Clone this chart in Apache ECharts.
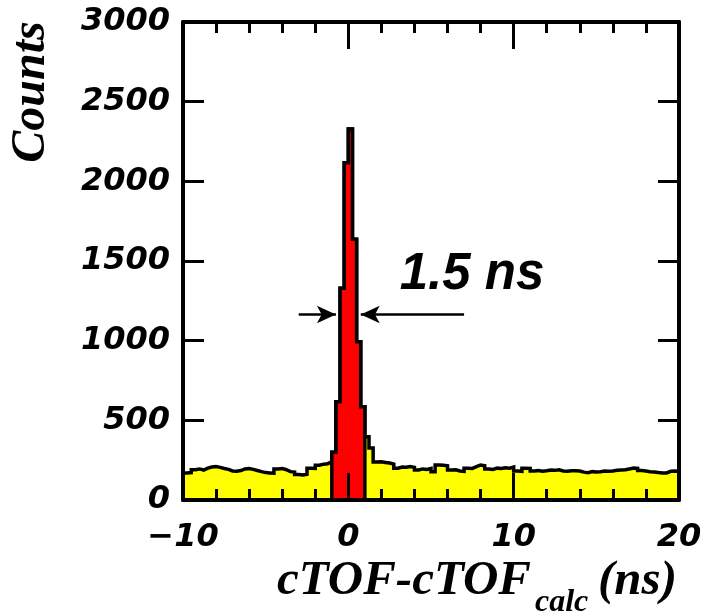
<!DOCTYPE html>
<html>
<head>
<meta charset="utf-8">
<script src="https://cdn.jsdelivr.net/npm/echarts@6/dist/echarts.min.js"></script>
<style>html,body{margin:0;padding:0;background:#fff}#c{width:706px;height:615px}</style>
</head>
<body>
<div id="c"></div>
<script>
// ---- data ----
const binStart = -10;          // ns, first bin low edge
const binWidth = 0.25;         // ns
// counts per bin, 120 bins from -10 to 20 ns
const counts = [
  170, 172, 190, 195, 188, 200, 207, 210, 205, 198,
  192, 182, 180, 185, 195, 198, 192, 185, 178, 172,
  170, 168, 195, 198, 190, 178, 175, 160, 157, 162,
  200, 198, 218, 225, 228, 240, 300, 617, 1329, 2117,
  2328, 1636, 993, 586, 397, 326, 238, 240, 236, 232,
  225, 200, 207, 205, 210, 205, 188, 195, 192, 198,
  178, 220, 218, 215, 188, 190, 182, 180, 200, 198,
  209, 220, 215, 195, 192, 200, 198, 202, 200, 207,
  182, 180, 200, 198, 182, 185, 180, 183, 188, 186,
  190, 182, 180, 184, 184, 182, 175, 171, 178, 176,
  178, 182, 180, 182, 186, 188, 190, 195, 200, 198,
  185, 182, 178, 176, 172, 170, 170, 180, 182, 180
];
const peakWindow = [-1.0, 1.0];      // ns, red selection
const fwhmArrows = { half: 1164, left: [-3, -0.75], right: [7, 0.75] };
const fwhmText = '1.5 ns';
const xTicks = { min: -10, max: 20, interval: 10 };
const yTicks = { min: 0, max: 3000, interval: 500 };

// ---- build step data ----
function stepData(lo, hi) {
  const d = [];
  for (let i = 0; i < counts.length; i++) {
    const x0 = binStart + i * binWidth;
    if (x0 < lo - 1e-9 || x0 + binWidth > hi + 1e-9) continue;
    d.push([x0, counts[i]]);
  }
  const last = d[d.length - 1];
  d.push([last[0] + binWidth, last[1]]);
  return d;
}
const allData = stepData(-Infinity, Infinity);
const peakData = stepData(peakWindow[0], peakWindow[1]);
peakData.unshift([peakWindow[0], 0]);
peakData.push([peakWindow[1], 0]);

const labelFont = {
  fontFamily: 'DejaVu Sans', fontWeight: 'bold', fontStyle: 'italic',
  fontSize: 32, color: '#000'
};
const axisCommon = {
  z: 10,
  axisLine: { show: true, onZero: false, lineStyle: { color: '#000', width: 4 } },
  splitLine: { show: false }
};

const chart = echarts.init(document.getElementById('c'), null, { renderer: 'canvas' });
chart.setOption({
  animation: false,
  backgroundColor: '#fff',
  grid: { left: 183, right: 27, top: 22, bottom: 115, containLabel: false },
  xAxis: [
    Object.assign({}, axisCommon, {
      type: 'value', position: 'bottom',
      min: xTicks.min, max: xTicks.max, interval: xTicks.interval,
      axisTick: { show: true, inside: true, length: 27, lineStyle: { color: '#000', width: 3 } },
      minorTick: { show: true, splitNumber: 5, length: 11, lineStyle: { color: '#000', width: 3 } },
      axisLabel: Object.assign({ margin: 22, showMinLabel: true, showMaxLabel: true,
        formatter: v => (v < 0 ? '\u2212' + Math.abs(v) : String(v)) }, labelFont)
    }),
    Object.assign({}, axisCommon, {
      type: 'value', position: 'top',
      min: xTicks.min, max: xTicks.max, interval: xTicks.interval,
      axisTick: { show: true, inside: true, length: 27, lineStyle: { color: '#000', width: 3 } },
      minorTick: { show: true, splitNumber: 5, length: 11, lineStyle: { color: '#000', width: 3 } },
      axisLabel: { show: false }
    })
  ],
  yAxis: [
    Object.assign({}, axisCommon, {
      type: 'value', position: 'left',
      min: yTicks.min, max: yTicks.max, interval: yTicks.interval,
      axisTick: { show: true, inside: true, length: 21, lineStyle: { color: '#000', width: 3 } },
      axisLabel: Object.assign({ margin: 13, showMinLabel: true, showMaxLabel: true,
        formatter: v => String(v) }, labelFont)
    }),
    Object.assign({}, axisCommon, {
      type: 'value', position: 'right',
      min: yTicks.min, max: yTicks.max, interval: yTicks.interval,
      axisTick: { show: true, inside: true, length: 21, lineStyle: { color: '#000', width: 3 } },
      axisLabel: { show: false }
    })
  ],
  series: [
    {
      type: 'line', step: 'end', data: allData, symbol: 'none', z: 2,
      lineStyle: { color: '#000', width: 3.5, join: 'miter' },
      areaStyle: { color: '#ffff00', opacity: 1 }
    },
    {
      type: 'line', step: 'end', data: peakData, symbol: 'none', z: 3,
      lineStyle: { color: '#000', width: 3.5, join: 'miter' },
      areaStyle: { color: '#ff0000', opacity: 1 },
      markLine: {
        silent: true, z: 5,
        symbol: ['none', 'arrow'], symbolSize: [13, 19],
        label: { show: false },
        lineStyle: { color: '#000', width: 2.5, type: 'solid' },
        data: [
          [{ coord: [fwhmArrows.left[0], fwhmArrows.half] }, { coord: [fwhmArrows.left[1], fwhmArrows.half] }],
          [{ coord: [fwhmArrows.right[0], fwhmArrows.half] }, { coord: [fwhmArrows.right[1], fwhmArrows.half] }]
        ]
      }
    }
  ],
  graphic: [
    { type: 'text', x: 472, y: 275, z: 20,
      style: { text: fwhmText, fill: '#000', textAlign: 'center', textVerticalAlign: 'middle',
        font: 'italic bold 51px "Liberation Sans"' } },
    { type: 'text', x: 32, y: 92, rotation: Math.PI / 2, z: 20,
      style: { text: 'Counts', fill: '#000', textAlign: 'center', textVerticalAlign: 'middle',
        font: 'italic bold 48px "Liberation Serif"' } },
    { type: 'text', x: 277, y: 606, z: 20,
      style: { text: 'cTOF-cTOF', fill: '#000', textAlign: 'left', textVerticalAlign: 'bottom',
        font: 'italic bold 49px "Liberation Serif"' } },
    { type: 'text', x: 535, y: 619, z: 20,
      style: { text: 'calc', fill: '#000', textAlign: 'left', textVerticalAlign: 'bottom',
        font: 'italic bold 32px "Liberation Serif"' } },
    { type: 'text', x: 598, y: 606, z: 20,
      style: { text: '(ns)', fill: '#000', textAlign: 'left', textVerticalAlign: 'bottom',
        font: 'italic bold 49px "Liberation Serif"' } }
  ]
});
</script>
</body>
</html>
